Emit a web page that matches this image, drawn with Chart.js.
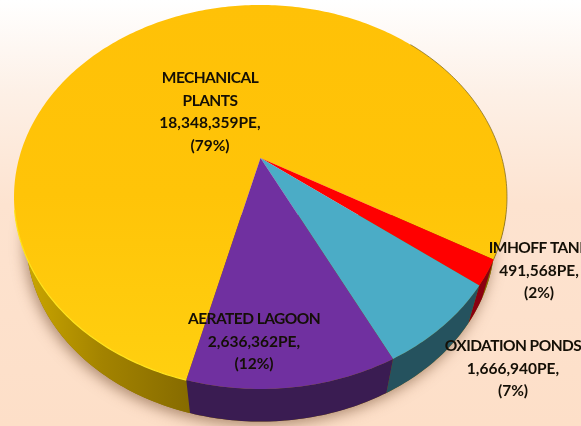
<!DOCTYPE html>
<html>
<head>
<meta charset="utf-8">
<title>Treatment plants by population equivalent</title>
<script src="https://cdn.jsdelivr.net/npm/chart.js@4"></script>
<style>
    html, body { margin: 0; padding: 0; overflow: hidden; }
    body { width: 581px; height: 426px; background: linear-gradient(to bottom, #ffffff 0%, #fdf0e6 22%, #fde3d0 48%, #fddfc8 100%); }
    canvas { display: block; }
</style>
</head>
<body>
<canvas id="plantsPie" width="581" height="426"></canvas>
<script>
// Population equivalent served by each type of plant
const categories = ['MECHANICAL PLANTS', 'IMHOFF TANK', 'OXIDATION PONDS', 'AERATED LAGOON'];
const plantsPE = [18348359, 491568, 1666940, 2636362];
const shares = [79, 2, 7, 12];

const topColors = ['#FFC407', '#FF0000', '#4BACC6', '#7030A0'];
const sideColors = ['#A88600', '#8A0010', '#25525E', '#3A1C52'];

// Label lines and where each block is centred
const labelLines = [
    ['MECHANICAL', 'PLANTS'],
    ['IMHOFF TANK'],
    ['OXIDATION PONDS'],
    ['AERATED LAGOON']
];
const labelAnchors = [[210, 78], [539, 248], [513, 346], [254, 319]];

// Face of the pie is a tilted disc seen in perspective
const face = { cx: 260.5, cy: 197, rx: 246.5, ry: 192, tilt: -0.203 };
// Lower rim: shrinks towards a vanishing point below the pie
const rim = { vx: 260.5, vy: 1040, scale: 0.95 };

// Unit disc point -> screen, keeps the hub off the ellipse centre
function project(px, py) {
    const d = 1 + face.tilt * py;
    const u = px * Math.sqrt(1 - face.tilt * face.tilt) / d;
    const v = (py + face.tilt) / d;
    return [face.cx + face.rx * u, face.cy + face.ry * v];
}

function rimPoint(p) {
    return [rim.vx + (p[0] - rim.vx) * rim.scale, rim.vy + (p[1] - rim.vy) * rim.scale];
}

function arcPoints(startAngle, endAngle) {
    const pts = [];
    const steps = Math.max(2, Math.ceil((endAngle - startAngle) * 60));
    for (let i = 0; i <= steps; i++) {
        const a = startAngle + (endAngle - startAngle) * i / steps;
        pts.push(project(Math.cos(a), Math.sin(a)));
    }
    return pts;
}

function tracePath(ctx, pts) {
    pts.forEach((p, i) => i ? ctx.lineTo(p[0], p[1]) : ctx.moveTo(p[0], p[1]));
}

// Slices are filled through the projection instead of as plain circles
Chart.ArcElement.prototype.draw = function(ctx) {
    const { startAngle, endAngle } = this.getProps(['startAngle', 'endAngle']);
    ctx.save();
    ctx.fillStyle = this.options.backgroundColor;
    ctx.beginPath();
    tracePath(ctx, [project(0, 0)].concat(arcPoints(startAngle, endAngle)));
    ctx.closePath();
    ctx.fill();
    ctx.restore();
};

const rimPlugin = {
    id: 'rimPlugin',
    beforeDatasetsDraw(chart) {
        const ctx = chart.ctx;
        const arcs = chart.getDatasetMeta(0).data;

        // only the front of the pie shows a wall
        ctx.save();
        ctx.beginPath();
        ctx.rect(0, 215, chart.width, chart.height - 215);
        ctx.clip();

        // soft shadow under the wall
        ctx.save();
        ctx.shadowColor = 'rgba(110, 70, 40, 0.55)';
        ctx.shadowBlur = 14;
        ctx.shadowOffsetX = -2;
        ctx.shadowOffsetY = 4;
        ctx.fillStyle = '#8a6d00';
        ctx.beginPath();
        tracePath(ctx, arcPoints(0, Math.PI * 2).map(rimPoint));
        ctx.closePath();
        ctx.fill();
        ctx.restore();

        arcs.forEach((arc, i) => {
            const { startAngle, endAngle } = arc.getProps(['startAngle', 'endAngle']);
            const upper = arcPoints(startAngle, endAngle);
            const lower = upper.map(rimPoint).reverse();
            ctx.fillStyle = sideColors[i];
            if (i === 0) {
                const g = ctx.createLinearGradient(30, 0, 190, 0);
                g.addColorStop(0, '#C8A400');
                g.addColorStop(0.45, '#A38300');
                g.addColorStop(1, '#866B00');
                ctx.fillStyle = g;
            }
            ctx.beginPath();
            tracePath(ctx, upper.concat(lower));
            ctx.closePath();
            ctx.fill();
        });
        ctx.restore();
    },
    afterDatasetsDraw(chart) {
        const ctx = chart.ctx;
        const { startAngle, endAngle } = chart.getDatasetMeta(0).data[0].getProps(['startAngle', 'endAngle']);
        ctx.save();
        // bright bevel along the front edge of the big slice
        ctx.strokeStyle = '#FFE41E';
        ctx.lineWidth = 1.2;
        ctx.beginPath();
        tracePath(ctx, arcPoints(startAngle, startAngle + 1.05));
        ctx.stroke();
        // thin dark edge on the far right side
        ctx.strokeStyle = 'rgba(120, 100, 30, 0.7)';
        ctx.lineWidth = 1;
        ctx.beginPath();
        tracePath(ctx, arcPoints(endAngle - 1.3, endAngle));
        ctx.stroke();
        ctx.restore();
    }
};

const labelPlugin = {
    id: 'labelPlugin',
    afterDatasetsDraw(chart) {
        const ctx = chart.ctx;
        ctx.save();
        ctx.font = 'bold 15.5px Lato, "Open Sans", sans-serif';
        ctx.fillStyle = '#140f06';
        ctx.textAlign = 'center';
        ctx.textBaseline = 'middle';
        const lineHeight = 22.6;
        labelLines.forEach((lines, i) => {
            const values = [plantsPE[i].toLocaleString('en-US') + 'PE,', '(' + shares[i] + '%)'];
            const y = labelAnchors[i][1];
            ctx.letterSpacing = '-0.55px';
            lines.forEach((text, k) => ctx.fillText(text, labelAnchors[i][0], y + k * lineHeight));
            ctx.letterSpacing = '0px';
            values.forEach((text, k) => ctx.fillText(text, labelAnchors[i][0], y + (lines.length + k) * lineHeight));
        });
        ctx.restore();
    }
};

const canvasCtx = document.getElementById('plantsPie').getContext('2d');

// Big slice gets slightly warmer towards the front
const yellowFace = canvasCtx.createLinearGradient(0, 5, 0, 385);
yellowFace.addColorStop(0, '#FFC107');
yellowFace.addColorStop(0.5, '#FFC408');
yellowFace.addColorStop(1, '#FFD010');

new Chart(canvasCtx, {
    type: 'pie',
    data: {
        labels: categories,
        datasets: [{
            data: plantsPE,
            backgroundColor: [yellowFace].concat(topColors.slice(1)),
            borderWidth: 0
        }]
    },
    options: {
        responsive: false,
        animation: false,
        rotation: 194.3,
        plugins: {
            legend: { display: false },
            tooltip: { enabled: false }
        }
    },
    plugins: [rimPlugin, labelPlugin]
});
</script>
</body>
</html>
